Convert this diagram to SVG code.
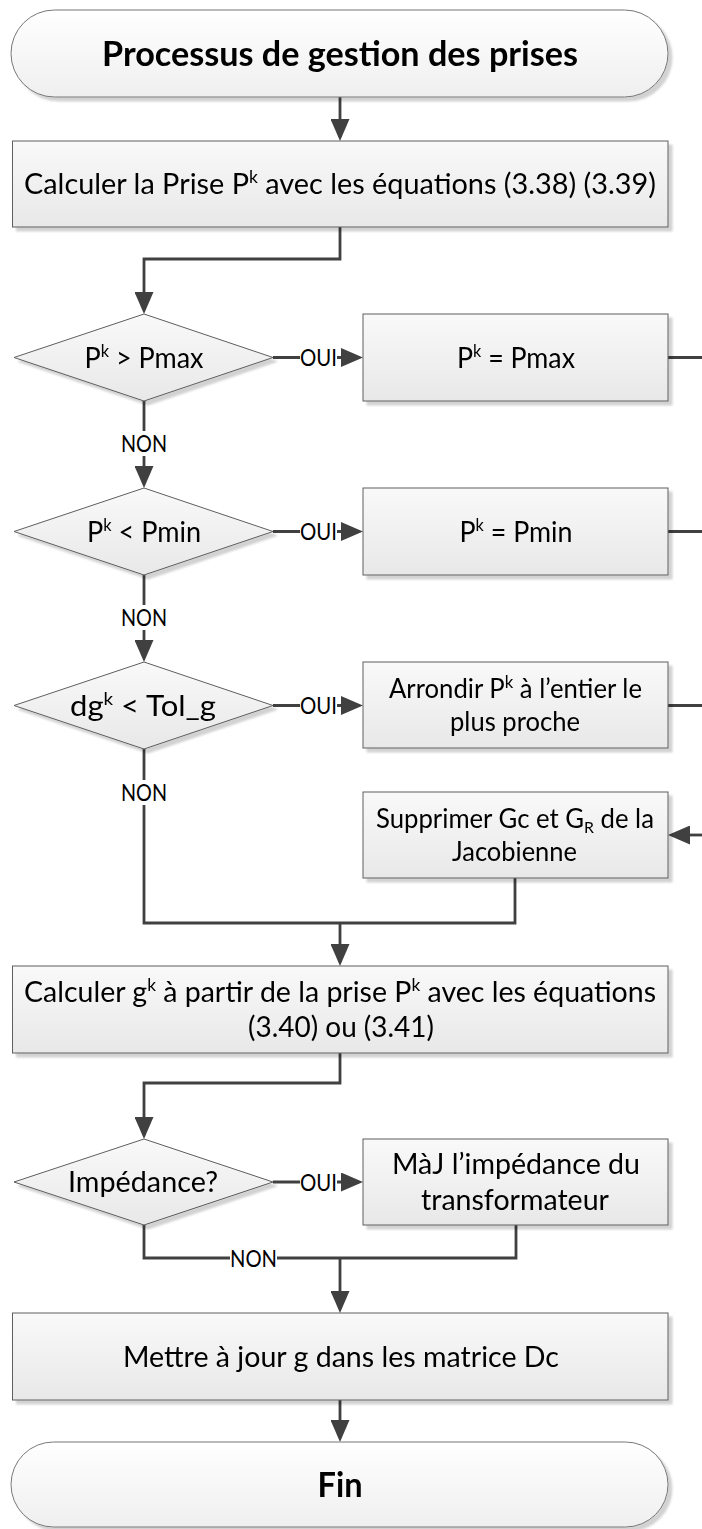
<svg xmlns="http://www.w3.org/2000/svg" width="702" height="1529" viewBox="0 0 702 1529">
<defs>
<style>
.box{fill:url(#gBox);stroke:#5e5e5e;stroke-width:1}
.term{fill:url(#gTerm);stroke:#777;stroke-width:1}
.conn{fill:none;stroke:#404040;stroke-width:2.8}
.t{font-family:Lato,'Liberation Sans',sans-serif;font-size:28px;fill:#000;text-anchor:middle}
.ts{font-size:26px}
.lbl{font-size:23px}
.title{font-weight:bold;font-size:34px}
.sup{font-size:17px}
.sub{font-size:16px}
.bg{fill:#fff}
</style>
<linearGradient id="gBox" x1="0" y1="0" x2="0" y2="1">
<stop offset="0" stop-color="#f9f9f9"/>
<stop offset="1" stop-color="#e8e8e8"/>
</linearGradient>
<linearGradient id="gTerm" x1="0" y1="0" x2="0" y2="1">
<stop offset="0" stop-color="#ffffff"/>
<stop offset="1" stop-color="#efefef"/>
</linearGradient>
<filter id="sh" x="-5%" y="-10%" width="115%" height="130%">
<feGaussianBlur in="SourceAlpha" stdDeviation="1.2"/>
<feOffset dx="4" dy="4" result="o"/>
<feComponentTransfer><feFuncA type="linear" slope="0.18"/></feComponentTransfer>
<feMerge><feMergeNode/><feMergeNode in="SourceGraphic"/></feMerge>
</filter>
<marker id="arr" markerUnits="userSpaceOnUse" markerWidth="22" markerHeight="19" refX="18" refY="9.5" orient="auto">
<path d="M0,0 L22,9.5 L0,19 z" fill="#404040"/>
</marker>
</defs>
<rect width="702" height="1529" fill="#fff"/>

<g id="connectors">
<path class="conn" d="M340,97 V137" marker-end="url(#arr)"/>
<path class="conn" d="M340,227 V259 H144 V310" marker-end="url(#arr)"/>
<path class="conn" d="M273,357.5 H359" marker-end="url(#arr)"/>
<path class="conn" d="M668,357.5 H702"/>
<path class="conn" d="M144,401 V484" marker-end="url(#arr)"/>
<path class="conn" d="M273,531.5 H359" marker-end="url(#arr)"/>
<path class="conn" d="M668,531.5 H702"/>
<path class="conn" d="M144,575 V658" marker-end="url(#arr)"/>
<path class="conn" d="M273,705.5 H359" marker-end="url(#arr)"/>
<path class="conn" d="M668,705.5 H702"/>
<path class="conn" d="M702,835 H672" marker-end="url(#arr)"/>
<path class="conn" d="M144,749 V923 H340"/>
<path class="conn" d="M515,878 V923 H340"/>
<path class="conn" d="M340,923 V962" marker-end="url(#arr)"/>
<path class="conn" d="M340,1053 V1083 H144 V1135" marker-end="url(#arr)"/>
<path class="conn" d="M273,1182 H359" marker-end="url(#arr)"/>
<path class="conn" d="M144,1225 V1258 H340"/>
<path class="conn" d="M516,1225 V1258 H340"/>
<path class="conn" d="M340,1258 V1309" marker-end="url(#arr)"/>
<path class="conn" d="M340,1400 V1438" marker-end="url(#arr)"/>
<g id="labels">
<rect class="bg" x="300" y="346" width="37" height="22"/>
<text class="t lbl" x="318.5" y="366" textLength="37" lengthAdjust="spacingAndGlyphs">OUI</text>
<rect class="bg" x="300" y="520" width="37" height="22"/>
<text class="t lbl" x="318.5" y="540" textLength="37" lengthAdjust="spacingAndGlyphs">OUI</text>
<rect class="bg" x="300" y="694" width="37" height="22"/>
<text class="t lbl" x="318.5" y="714" textLength="37" lengthAdjust="spacingAndGlyphs">OUI</text>
<rect class="bg" x="300" y="1171" width="37" height="22"/>
<text class="t lbl" x="318.5" y="1190.5" textLength="37" lengthAdjust="spacingAndGlyphs">OUI</text>
<rect class="bg" x="118" y="431" width="52" height="25"/>
<text class="t lbl" x="144" y="452" textLength="46" lengthAdjust="spacingAndGlyphs">NON</text>
<rect class="bg" x="118" y="605" width="52" height="25"/>
<text class="t lbl" x="144" y="626" textLength="46" lengthAdjust="spacingAndGlyphs">NON</text>
<rect class="bg" x="118" y="780" width="52" height="25"/>
<text class="t lbl" x="144" y="801" textLength="46" lengthAdjust="spacingAndGlyphs">NON</text>
<rect class="bg" x="230" y="1247" width="47" height="22"/>
<text class="t lbl" x="253.5" y="1266.5" textLength="47" lengthAdjust="spacingAndGlyphs">NON</text>
</g>
</g>

<g id="start" filter="url(#sh)">
<rect class="term" x="11" y="10" width="657" height="87" rx="43.5"/>
<text class="t title" x="340" y="66" textLength="476" lengthAdjust="spacingAndGlyphs">Processus de gestion des prises</text>
</g>

<g id="calc-prise" filter="url(#sh)">
<rect class="box" x="12.5" y="141" width="655.5" height="86"/>
<text class="t" x="340" y="194" textLength="632" lengthAdjust="spacingAndGlyphs">Calculer la Prise P<tspan class="sup" dy="-11">k</tspan><tspan dy="11"> avec les équations (3.38) (3.39)</tspan></text>
</g>

<g id="dec-pmax" filter="url(#sh)">
<polygon class="box" points="144,314 273,357.5 144,401 14,357.5"/>
<text class="t" x="144" y="368" textLength="119" lengthAdjust="spacingAndGlyphs">P<tspan class="sup" dy="-11">k</tspan><tspan dy="11"> &gt; Pmax</tspan></text>
</g>

<g id="set-pmax" filter="url(#sh)">
<rect class="box" x="363" y="314" width="305" height="87"/>
<text class="t" x="516" y="368" textLength="118" lengthAdjust="spacingAndGlyphs">P<tspan class="sup" dy="-11">k</tspan><tspan dy="11"> = Pmax</tspan></text>
</g>

<g id="dec-pmin" filter="url(#sh)">
<polygon class="box" points="144,488 273,531.5 144,575 14,531.5"/>
<text class="t" x="144" y="542" textLength="114" lengthAdjust="spacingAndGlyphs">P<tspan class="sup" dy="-11">k</tspan><tspan dy="11"> &lt; Pmin</tspan></text>
</g>

<g id="set-pmin" filter="url(#sh)">
<rect class="box" x="363" y="488" width="305" height="87"/>
<text class="t" x="516" y="542" textLength="113" lengthAdjust="spacingAndGlyphs">P<tspan class="sup" dy="-11">k</tspan><tspan dy="11"> = Pmin</tspan></text>
</g>

<g id="dec-tol" filter="url(#sh)">
<polygon class="box" points="144,662 273,705.5 144,749 14,705.5"/>
<text class="t" x="143" y="716" textLength="146" lengthAdjust="spacingAndGlyphs">dg<tspan class="sup" dy="-11">k</tspan><tspan dy="11"> &lt; Tol_g</tspan></text>
</g>

<g id="arrondir" filter="url(#sh)">
<rect class="box" x="363" y="662" width="305" height="86"/>
<text class="t ts" x="515.5" y="698" textLength="253" lengthAdjust="spacingAndGlyphs">Arrondir P<tspan class="sup" dy="-10">k</tspan><tspan dy="10"> à l’entier le</tspan></text>
<text class="t ts" x="515" y="731" textLength="130" lengthAdjust="spacingAndGlyphs">plus proche</text>
</g>

<g id="supprimer" filter="url(#sh)">
<rect class="box" x="363" y="792" width="305" height="86"/>
<text class="t ts" x="515" y="828" textLength="278" lengthAdjust="spacingAndGlyphs">Supprimer Gc et G<tspan class="sub" dy="5">R</tspan><tspan dy="-5"> de la</tspan></text>
<text class="t ts" x="514.5" y="861" textLength="125" lengthAdjust="spacingAndGlyphs">Jacobienne</text>
</g>

<g id="calc-g" filter="url(#sh)">
<rect class="box" x="12.5" y="966" width="655.5" height="87"/>
<text class="t" x="340" y="1002" textLength="632" lengthAdjust="spacingAndGlyphs">Calculer g<tspan class="sup" dy="-11">k</tspan><tspan dy="11"> à partir de la prise P</tspan><tspan class="sup" dy="-11">k</tspan><tspan dy="11"> avec les équations</tspan></text>
<text class="t" x="341" y="1037" textLength="186" lengthAdjust="spacingAndGlyphs">(3.40) ou (3.41)</text>
</g>

<g id="dec-imp" filter="url(#sh)">
<polygon class="box" points="144,1139 273,1182 144,1225 14,1182"/>
<text class="t" x="143" y="1192" textLength="150" lengthAdjust="spacingAndGlyphs">Impédance?</text>
</g>

<g id="maj" filter="url(#sh)">
<rect class="box" x="363" y="1139" width="305" height="86"/>
<text class="t" x="516" y="1174" textLength="248" lengthAdjust="spacingAndGlyphs">MàJ l’impédance du</text>
<text class="t" x="515" y="1210" textLength="188" lengthAdjust="spacingAndGlyphs">transformateur</text>
</g>

<g id="mettre" filter="url(#sh)">
<rect class="box" x="12.5" y="1313" width="655.5" height="87"/>
<text class="t" x="341" y="1367" textLength="436" lengthAdjust="spacingAndGlyphs">Mettre à jour g dans les matrice Dc</text>
</g>

<g id="fin" filter="url(#sh)">
<rect class="term" x="11" y="1442" width="657" height="85" rx="42.5"/>
<text class="t title" x="340" y="1497" textLength="45" lengthAdjust="spacingAndGlyphs">Fin</text>
</g>
</svg>
